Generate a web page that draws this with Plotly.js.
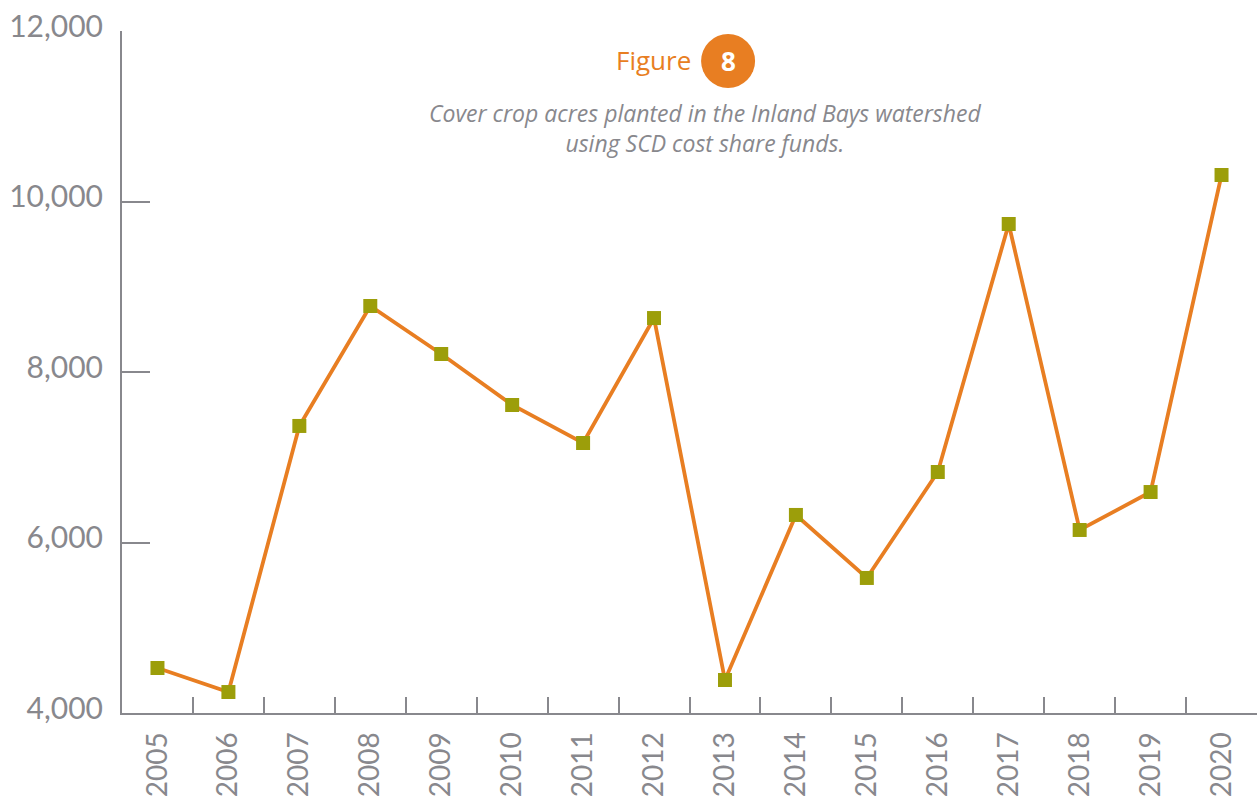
<!DOCTYPE html>
<html>
<head>
<meta charset="utf-8">
<script src="https://cdn.plot.ly/plotly-3.0.1.min.js"></script>
<style>html,body{margin:0;padding:0;background:#fff;}#chart{width:1257px;height:800px;}</style>
</head>
<body>
<div id="chart"></div>
<script>
const years = ["2005","2006","2007","2008","2009","2010","2011","2012","2013","2014","2015","2016","2017","2018","2019","2020"];
const acres = [4528, 4246, 7367, 8774, 8211, 7613, 7167, 8633, 4387, 6323, 5584, 6827, 9736, 6147, 6592, 10311];
const yTickVals = [4000, 6000, 8000, 10000, 12000];
const yTickText = ["4,000", "6,000", "8,000", "10,000", "12,000"];

const grey = "#88888d";
const orange = "#e87e22";
const olive = "#9c9e0a";
const fontFam = "Lato, 'Open Sans', sans-serif";
const titleFam = "'Open Sans', Lato, sans-serif";

const trace = {
  x: years,
  y: acres,
  type: "scatter",
  mode: "lines+markers",
  line: {color: orange, width: 3.8},
  marker: {symbol: "square", size: 14, color: olive},
  cliponaxis: false,
  hoverinfo: "x+y"
};

const layout = {
  width: 1257,
  height: 800,
  margin: {l: 121.5, r: 0, t: 31, b: 87},
  paper_bgcolor: "#fff",
  plot_bgcolor: "#fff",
  showlegend: false,
  font: {family: fontFam, color: grey},
  xaxis: {
    type: "category",
    showgrid: false,
    zeroline: false,
    showline: true,
    linecolor: grey,
    linewidth: 2,
    ticks: "inside",
    tickson: "boundaries",
    ticklen: 16,
    tickwidth: 2,
    tickcolor: grey,
    tickangle: -90,
    tickfont: {size: 28, color: grey, family: fontFam},
    ticklabelstandoff: 6,
    range: [-0.5, 15.5]
  },
  yaxis: {
    range: [4000, 12000],
    showgrid: false,
    zeroline: false,
    showline: true,
    linecolor: grey,
    linewidth: 2,
    ticks: "inside",
    ticklen: 28,
    tickwidth: 2,
    tickcolor: grey,
    tickvals: yTickVals,
    ticktext: yTickText,
    tickfont: {size: 30, color: grey, family: fontFam},
    ticklabelstandoff: 11,
    ticklabelshift: -5
  },
  shapes: [
    {
      type: "circle",
      xref: "paper", yref: "paper",
      xsizemode: "pixel", ysizemode: "pixel",
      xanchor: 0.534, yanchor: 0.956,
      x0: -27, x1: 27, y0: -27, y1: 27,
      fillcolor: orange,
      line: {width: 0}
    }
  ],
  annotations: [
    {
      text: "Figure",
      xref: "paper", yref: "paper",
      x: 0.468, y: 0.958,
      xanchor: "center", yanchor: "middle",
      showarrow: false,
      font: {size: 26, color: orange, family: titleFam}
    },
    {
      text: "<b>8</b>",
      xref: "paper", yref: "paper",
      x: 0.534, y: 0.956,
      xanchor: "center", yanchor: "middle",
      showarrow: false,
      font: {size: 26, color: "#ffffff", family: titleFam}
    },
    {
      text: "<i>Cover crop acres planted in the Inland Bays watershed<br>using SCD cost share funds.</i>",
      xref: "paper", yref: "paper",
      x: 0.514, y: 0.858,
      xanchor: "center", yanchor: "middle",
      align: "center",
      showarrow: false,
      font: {size: 23, color: grey, family: titleFam}
    }
  ]
};

Plotly.newPlot("chart", [trace], layout, {displayModeBar: false, staticPlot: true});
</script>
</body>
</html>
